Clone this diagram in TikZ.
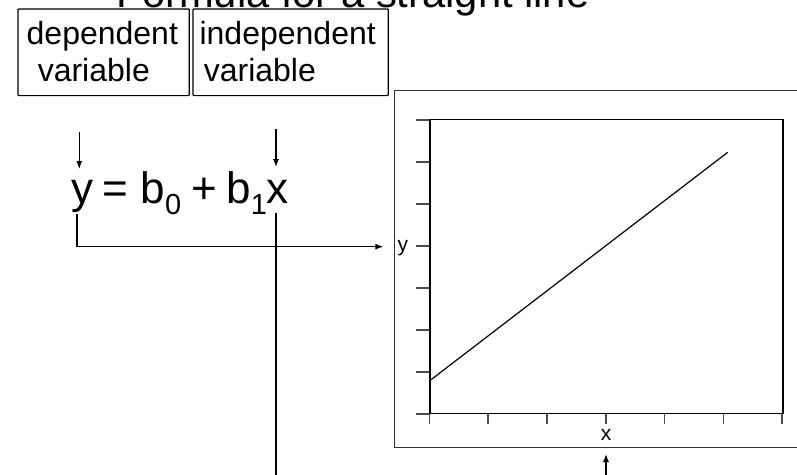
\documentclass[tikz,border=0pt]{standalone}
\usepackage{fontspec}
\setmainfont{Liberation Sans}
\usetikzlibrary{arrows.meta}
\newcommand\mysub[1]{\raisebox{-10.7pt}{\fontsize{29}{29}\selectfont #1}}
\begin{document}
\begin{tikzpicture}[x=1pt,y=-1pt,
  line width=1.2pt,
  lbl/.style={inner sep=0pt, outer sep=0pt, anchor=base west},
  boxfont/.style={font=\fontsize{32}{37}\selectfont},
  vbox/.style={draw, line width=1.2pt, rounded corners=1pt, inner sep=0pt, anchor=north west, minimum height=86.7pt},
  arr/.style={-{Latex[length=8pt,width=6pt]}, line width=1.2pt},
  frame/.style={draw, line width=1.3pt, inner sep=0pt, anchor=north west},
  tick/.style={draw=black!70, line width=1.6pt}]
\useasboundingbox (0,0) rectangle (797,474);
\clip (0,0) rectangle (797,474);

% title
\node[lbl, font=\fontsize{41.7}{45}\selectfont] (title) at (116.6,7) {Formula for a straight line};

% label boxes
\node[vbox, minimum width=171.4pt] (dep) at (17.3,8.3) {};
\node[vbox, minimum width=195.4pt] (indep) at (192.3,8.3) {};
\node[lbl, boxfont] (dep1) at (26.7,44.3) {dependent};
\node[lbl, boxfont] (dep2) at (37.8,81.7) {variable};
\node[lbl, boxfont] (ind1) at (199.6,44.3) {independent};
\node[lbl, boxfont] (ind2) at (203.8,81.7) {variable};

% formula
\node[lbl, font=\fontsize{44}{48}\selectfont] (eq) at (71.7,203.3)
  {y\hspace{9.2pt}=\hspace{12pt}b\mysub{0}\hspace{10.2pt}+\hspace{9.2pt}b\mysub{1}x};

\coordinate (ytop) at (79.3,131.7);
\coordinate (ytip) at (79.3,169);
\coordinate (xtop) at (276,129);
\coordinate (xtip) at (276,167);
\draw[arr] (ytop) -- (ytip);
\draw[arr] (xtop) -- (xtip);

% outer graph frame
\node[frame, draw=black!80, minimum width=430pt, minimum height=356.7pt] (outer) at (394,90) {};
% inner plot
\node[frame, minimum width=353pt, minimum height=293.7pt] (plot) at (429.3,119) {};

\foreach \i in {0,...,7}
  \draw[tick] ([xshift=-13pt,yshift=42*\i pt]plot.south west) -- ([yshift=42*\i pt]plot.south west);
\foreach \i in {0,...,6}
  \draw[tick] ([xshift=58.83*\i pt]plot.south west) -- ([xshift=58.83*\i pt,yshift=-10pt]plot.south west);

\coordinate (l1) at (429.3,381);
\coordinate (l2) at (727.7,152.3);
\draw[line width=1.2pt] (l1) -- (l2);

\node[lbl, font=\fontsize{21}{21}\selectfont] (ylab) at (397.5,251.7) {y};
\node[inner sep=0pt, anchor=base, font=\fontsize{21}{21}\selectfont] (xlab) at (606,440) {x};

% connectors
\coordinate (ybend) at (77,246.7);
\coordinate (yarr) at (383.3,246.7);
\draw[arr] (77,214) -- (ybend) -- (yarr);
\coordinate (xstart) at (276,212.7);
\coordinate (xend) at (276,480);
\draw[line width=1.2pt] (xstart) -- (xend);
\coordinate (bstart) at (606,480);
\coordinate (btip) at (606,454);
\draw[arr] (bstart) -- (btip);
\end{tikzpicture}
\end{document}
